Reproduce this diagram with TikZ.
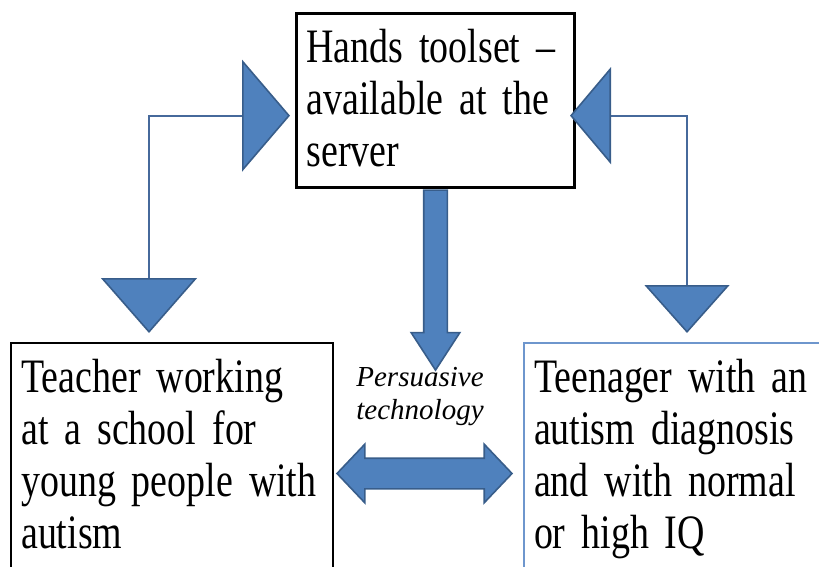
\documentclass[tikz,border=0pt]{standalone}
\usepackage{fontspec}
\setmainfont{Liberation Serif}[FakeStretch=0.79]
\newfontfamily\notefont{Liberation Serif}
\usepackage{tikz}
\usetikzlibrary{arrows.meta, shapes.arrows}

\definecolor{arrowfill}{RGB}{79,129,189}
\definecolor{arrowline}{RGB}{56,93,138}
\definecolor{linkline}{RGB}{70,105,155}
\definecolor{teenline}{RGB}{110,150,205}

\tikzset{
    rolebox/.style={draw, line width=1.2pt, anchor=north west, align=left,
        inner xsep=5pt, inner ysep=8pt, font=\fontsize{24}{26}\selectfont},
    sidelink/.style={draw=linkline, line width=1pt},
    blockarrow/.style={fill=arrowfill, draw=arrowline, line width=0.8pt, inner xsep=0pt}
}

\begin{document}
\begin{tikzpicture}[x=0.5pt, y=-0.5pt]
        \useasboundingbox (0,0) rectangle (819,567);
        \clip (0,0) rectangle (819,567);

        \node[rolebox, line width=1.5pt, text width=129pt] (hands) at (295,12) {Hands toolset –\\available at the\\server\rule[-2.5pt]{0pt}{2.5pt}};
        \node[rolebox, text width=151pt] (teacher) at (10,342) {Teacher working\\at a school for\\young people with\\autism\rule[-40pt]{0pt}{40pt}};
        \node[rolebox, draw=teenline, line width=1pt, text width=150pt] (teen) at (523,342) {Teenager with an\\autism diagnosis\\and with normal\\or high IQ\rule[-40pt]{0pt}{40pt}};

        \draw[sidelink, {Triangle[length=27.5pt, width=48pt, fill=arrowfill, color=arrowline, line width=0.8pt]}-{Triangle[length=24pt, width=56pt, fill=arrowfill, color=arrowline, line width=0.8pt]}]
            ([shift={(139,-9)}]teacher.north west) |- ([shift={(-5,15)}]hands.west); % teacher
        \draw[sidelink, {Triangle[length=24pt, width=42.5pt, fill=arrowfill, color=arrowline, line width=0.8pt]}-{Triangle[length=20.5pt, width=48.5pt, fill=arrowfill, color=arrowline, line width=0.8pt]}]
            ([shift={(164,-9)}]teen.north west) |- ([shift={(-6,15)}]hands.east); % teenager

        \node[blockarrow, single arrow, rotate=-90, anchor=tail, minimum height=90pt, inner ysep=5.5pt,
            single arrow head extend=6.25pt, single arrow tip angle=66] (push) at (hands.south) {};
        \node[blockarrow, double arrow, minimum height=87.5pt, inner ysep=7.25pt,
            double arrow head extend=7pt, double arrow tip angle=93] (share) at (424.5,473.5) {};
        \node[font=\notefont\itshape\fontsize{14.5}{16.5}\selectfont, align=center] (tech) at (420,397) {Persuasive\\technology};
    \end{tikzpicture}
\end{document}
